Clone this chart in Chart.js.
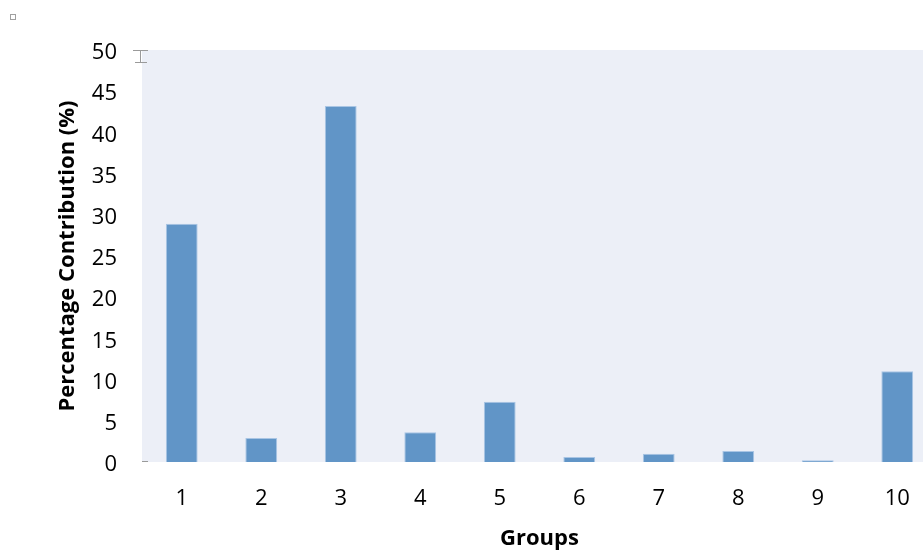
<!DOCTYPE html>
<html>
<head>
<meta charset="utf-8">
<script src="https://cdn.jsdelivr.net/npm/chart.js@4"></script>
<style>
  html, body { margin: 0; padding: 0; background: #fff; overflow: hidden; }
  #wrap { width: 937px; height: 550px; }
</style>
</head>
<body>
<div id="wrap"><canvas id="Chart1"></canvas></div>
<script>
// data
var groups = ["1", "2", "3", "4", "5", "6", "7", "8", "9", "10"];
var contribution = [28.9, 2.9, 43.2, 3.6, 7.3, 0.6, 1.0, 1.35, 0.2, 11.0];
var yTicks = [0, 5, 10, 15, 20, 25, 30, 35, 40, 45, 50];

var fontName = "'Open Sans', 'Liberation Sans', sans-serif";

// light plot background plus the little marks left in the scan
var plotBack = {
  id: "plotBack",
  beforeDraw: function (chart) {
    var a = chart.chartArea;
    var ctx = chart.ctx;
    ctx.save();
    ctx.fillStyle = "#ECEFF7";
    ctx.fillRect(a.left, a.top, a.right - a.left, a.bottom - a.top);
    ctx.strokeStyle = "#9a9a9a";
    ctx.lineWidth = 1;
    // i-beam near top of axis
    ctx.beginPath();
    ctx.moveTo(a.left - 9, a.top + 0.5); ctx.lineTo(a.left + 6, a.top + 0.5);
    ctx.moveTo(a.left - 1.5, a.top); ctx.lineTo(a.left - 1.5, a.top + 12);
    ctx.moveTo(a.left - 7, a.top + 12.5); ctx.lineTo(a.left + 5, a.top + 12.5);
    ctx.stroke();
    // dash at the bottom
    ctx.beginPath();
    ctx.moveTo(a.left, a.bottom - 0.5); ctx.lineTo(a.left + 6, a.bottom - 0.5);
    ctx.stroke();
    // tiny square top-left
    ctx.strokeStyle = "#a0a0a0";
    ctx.strokeRect(10.5, 14.5, 5, 5);
    ctx.restore();
  },
};

var data = {
  labels: groups,
  datasets: [
    {
      label: "Percentage Contribution (%)",
      data: contribution,
      backgroundColor: "#6195C7",
      borderColor: "#A9C5E4",
      borderWidth: 1,
      categoryPercentage: 1,
      barPercentage: 0.4,
    },
  ],
};

var options = {
  responsive: true,
  maintainAspectRatio: false,
  animation: false,
  layout: { padding: { left: 43, top: 50, right: 0, bottom: 0 } },
  plugins: {
    legend: { display: false },
    tooltip: { enabled: false },
  },
  scales: {
    x: {
      grid: { display: false, drawTicks: false },
      border: { display: false },
      ticks: { color: "#000", font: { family: fontName, size: 22 }, padding: 24 },
      title: {
        display: true,
        text: "Groups",
        color: "#000",
        font: { family: fontName, size: 22, weight: "bold", lineHeight: 1 },
        padding: 0,
      },
      afterFit: function (scale) {
        scale.height = 88;
      },
    },
    y: {
      min: 0,
      max: 50,
      afterBuildTicks: function (scale) {
        scale.ticks = yTicks.map(function (v) { return { value: v }; });
      },
      grid: { display: false, drawTicks: false },
      border: { display: false },
      ticks: {
        color: "#000",
        font: { family: fontName, size: 22 },
        padding: 25,
        labelOffset: 3,
      },
      title: {
        display: true,
        text: "Percentage Contribution (%)",
        color: "#000",
        font: { family: fontName, size: 22, weight: "bold" },
        padding: { top: 12, bottom: 0 },
      },
      afterFit: function (scale) {
        scale.width = 99;
      },
    },
  },
};

var ctx = document.getElementById("Chart1").getContext("2d");
var myChart = new Chart(ctx, {
  type: "bar",
  data: data,
  options: options,
  plugins: [plotBack],
});
</script>
</body>
</html>
